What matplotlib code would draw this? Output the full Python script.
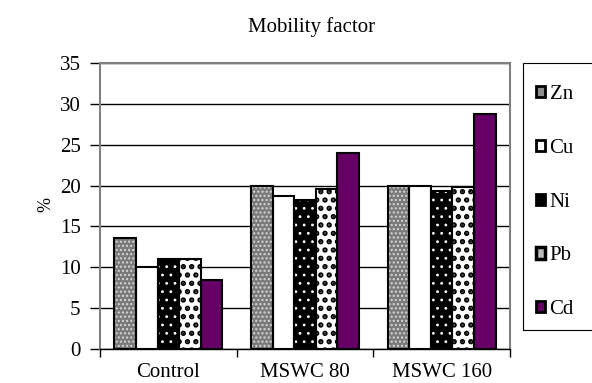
import numpy as np
import matplotlib.pyplot as plt
from matplotlib.patches import Patch, Rectangle

plt.rcParams['font.family'] = ['Liberation Serif', 'DejaVu Serif']
plt.rcParams['font.size'] = 15

categories = ['Control', 'MSWC 80', 'MSWC 160']
metals = ['Zn', 'Cu', 'Ni', 'Pb', 'Cd']
zn = [13.6, 20.0, 20.0]
cu = [10.0, 18.7, 20.0]
ni = [11.0, 18.2, 19.3]
pb = [11.0, 19.6, 19.8]
cd = [8.4, 24.0, 28.7]
values = [zn, cu, ni, pb, cd]

# face colour, hatch, hatch colour, hatch line width
styles = [('#7a7a7a', '....', '#d8d8d8', 1.0),
          ('white', None, None, 1.0),
          ('black', '..', 'white', 0.8),
          ('white', '..', 'black', 2.6),
          ('#660066', None, None, 1.0)]

fig = plt.figure(figsize=(5.92, 3.83), dpi=100)
ax = fig.add_axes([100/592, 34/383, 410/592, 286/383])

x = np.arange(len(categories))
w = 0.158
for i, vals in enumerate(values):
    pos = x - 2*w + i*w
    face, hatch, hcol, hlw = styles[i]
    ax.bar(pos, vals, w, color=face, linewidth=0, zorder=2)
    if hatch:
        with plt.rc_context({'hatch.linewidth': hlw}):
            ax.bar(pos, vals, w, fill=False, hatch=hatch, edgecolor=hcol,
                   linewidth=0, zorder=3)
    ax.bar(pos, vals, w, fill=False, edgecolor='black', linewidth=1.5, zorder=4)

ax.set_xlim(-0.5, 2.5)
ax.set_ylim(0, 35)
ax.set_yticks(range(0, 36, 5))
ax.yaxis.grid(True, color='black', linewidth=1)
ax.set_axisbelow(True)

ax.set_xticks(x)
ax.set_xticklabels(categories)
ax.set_xticks([-0.5, 0.5, 1.5, 2.5], minor=True)
ax.tick_params(axis='x', which='major', length=0, pad=10)
ax.tick_params(axis='x', which='minor', length=6, width=1, direction='out')
ax.tick_params(axis='y', length=7, width=1, pad=7)

for s in ['top', 'left', 'right']:
    ax.spines[s].set_color('#808080')
    ax.spines[s].set_linewidth(1.5)
ax.spines['bottom'].set_color('black')
ax.spines['bottom'].set_linewidth(1)

fig.text(312/592, 1 - 27/383, 'Mobility factor', ha='center', va='center')
fig.text(46/592, 1 - 205/383, '%', rotation=90, ha='center', va='center', fontsize=13)

# legend box
fig.patches.append(Rectangle((523/592, 1 - 330/383), 80/592, 267/383,
                             transform=fig.transFigure, fill=False,
                             edgecolor='black', linewidth=0.8))

handles = [Patch(facecolor='#8c8c8c', edgecolor='black', linewidth=2),
           Patch(facecolor='white', edgecolor='black', linewidth=2),
           Patch(facecolor='black', edgecolor='black', linewidth=2),
           Patch(facecolor='#bbbbbb', edgecolor='black', linewidth=2.5),
           Patch(facecolor='#660066', edgecolor='black', linewidth=2)]

leg = fig.legend(handles, metals, loc='upper left',
                 bbox_to_anchor=(536/592, 1 - 85/383),
                 frameon=False,
                 handlelength=0.45, handleheight=0.45, handletextpad=0.2,
                 labelspacing=1.67, borderpad=0, borderaxespad=0)

fig.savefig('out.png', dpi=100)
